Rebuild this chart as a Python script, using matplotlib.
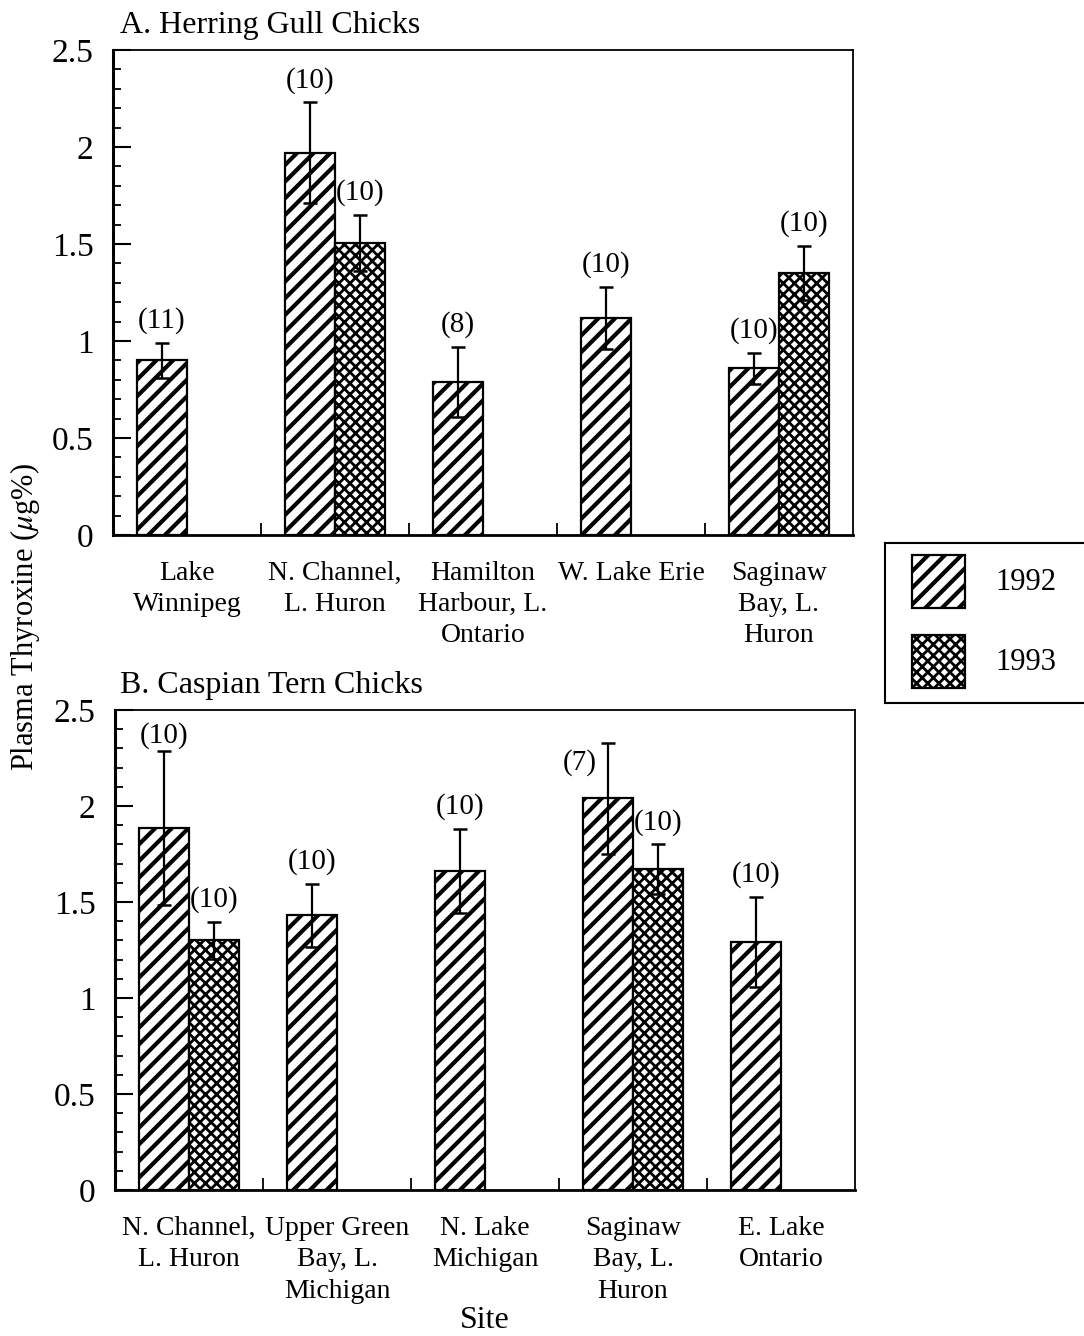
import numpy as np
import matplotlib.pyplot as plt
from matplotlib.patches import Rectangle

plt.rcParams['font.family'] = ['Liberation Serif', 'DejaVu Serif']
plt.rcParams['mathtext.fontset'] = 'stix'

# A. Herring Gull chicks
sites_a = ['Lake\nWinnipeg', 'N. Channel,\nL. Huron', 'Hamilton\nHarbour, L.\nOntario',
           'W. Lake Erie', 'Saginaw\nBay, L.\nHuron']
a_1992 = [0.90, 1.97, 0.79, 1.12, 0.86]
a_1992_err = [0.09, 0.26, 0.18, 0.16, 0.08]
a_1992_n = [11, 10, 8, 10, 10]
a_1993 = [np.nan, 1.505, np.nan, np.nan, 1.35]
a_1993_err = [np.nan, 0.145, np.nan, np.nan, 0.14]
a_1993_n = [None, 10, None, None, 10]

# B. Caspian Tern chicks
sites_b = ['N. Channel,\nL. Huron', 'Upper Green\nBay, L.\nMichigan', 'N. Lake\nMichigan',
           'Saginaw\nBay, L.\nHuron', 'E. Lake\nOntario']
b_1992 = [1.885, 1.43, 1.66, 2.04, 1.29]
b_1992_err = [0.40, 0.165, 0.22, 0.29, 0.235]
b_1992_n = [10, 10, 10, 7, 10]
b_1993 = [1.30, np.nan, np.nan, 1.67, np.nan]
b_1993_err = [0.095, np.nan, np.nan, 0.13, np.nan]
b_1993_n = [10, None, None, 10, None]

years = ['1992', '1993']
W = 0.34
HATCH = {'1992': ('//', 3.0), '1993': ('xxx', 2.0)}


def draw_bars(ax, x, vals, errs, ns, year, offs):
    vals = np.array(vals)
    errs = np.array(errs)
    ok = ~np.isnan(vals)
    hatch, hlw = HATCH[year]
    plt.rcParams['hatch.linewidth'] = hlw
    bars = ax.bar(x[ok], vals[ok], W, color='white', edgecolor='black',
                  linewidth=1.6, hatch=hatch, zorder=2)
    for b in bars:
        if hasattr(b, 'set_hatch_linewidth'):
            b.set_hatch_linewidth(hlw)
    ax.errorbar(x[ok], vals[ok], yerr=errs[ok], fmt='none', ecolor='black',
                elinewidth=1.6, capsize=5, capthick=1.8, zorder=3)
    for i in np.where(ok)[0]:
        dx, dy = offs.get(i, (0, 16))
        ax.annotate('(%d)' % ns[i], (x[i], vals[i] + errs[i]), xytext=(dx, dy),
                    textcoords='offset points', ha='center', va='center', fontsize=21)


def draw_panel(ax, sites, v92, e92, n92, v93, e93, n93, offs92={}, offs93={}):
    x = np.arange(len(sites))
    draw_bars(ax, x - W / 2, v92, e92, n92, '1992', offs92)
    draw_bars(ax, x + W / 2, v93, e93, n93, '1993', offs93)
    ax.set_xlim(-0.5, len(sites) - 0.5)
    ax.set_ylim(0, 2.5)
    ax.set_yticks([0, 0.5, 1, 1.5, 2, 2.5])
    ax.set_yticklabels(['0', '0.5', '1', '1.5', '2', '2.5'])
    ax.set_yticks(np.arange(0, 2.51, 0.1), minor=True)
    ax.set_xticks(x)
    ax.set_xticklabels(sites, fontsize=20, linespacing=1.32)
    ax.set_xticks(x[:-1] + 0.5, minor=True)
    ax.tick_params(axis='x', which='major', length=0, pad=19)
    ax.tick_params(axis='x', which='minor', direction='in', length=9, width=1.3)
    ax.tick_params(axis='y', which='major', direction='in', length=13, width=1.5,
                   labelsize=24, pad=14)
    ax.tick_params(axis='y', which='minor', direction='in', length=6, width=1.3)
    ax.spines['left'].set_linewidth(2.2)
    ax.spines['bottom'].set_linewidth(2.0)
    ax.spines['top'].set_linewidth(1.3)
    ax.spines['right'].set_linewidth(1.3)


fig = plt.figure(figsize=(10.84, 13.36), dpi=100)
axA = fig.add_axes([0.1042, 0.5996, 0.6827, 0.3630])
axB = fig.add_axes([0.1061, 0.1093, 0.6827, 0.3593])

draw_panel(axA, sites_a, a_1992, a_1992_err, a_1992_n, a_1993, a_1993_err, a_1993_n)
draw_panel(axB, sites_b, b_1992, b_1992_err, b_1992_n, b_1993, b_1993_err, b_1993_n,
           offs92={0: (0, 11), 3: (-20, -14)})

fig.text(120 / 1084, 1 - 25 / 1336, 'A. Herring Gull Chicks', fontsize=23, ha='left', va='center')
fig.text(120 / 1084, 1 - 686 / 1336, 'B. Caspian Tern Chicks', fontsize=23, ha='left', va='center')
fig.text(25 / 1084, 1 - 617 / 1336, r'Plasma Thyroxine ($\mu$g%)', fontsize=22,
         rotation=90, ha='center', va='center')
fig.text(485 / 1084, 1 - 1320 / 1336, 'Site', fontsize=23, ha='center', va='center')

# legend box, drawn in its own small axes (runs off the right edge like the original)
lax = fig.add_axes([885 / 1084, 1 - 703 / 1336, 215 / 1084, 160 / 1336])
lax.set_xlim(0, 215)
lax.set_ylim(0, 160)
lax.set_xticks([])
lax.set_yticks([])
for s in lax.spines.values():
    s.set_linewidth(1.5)
for k, year in enumerate(years):
    hatch, hlw = HATCH[year]
    plt.rcParams['hatch.linewidth'] = hlw
    y0 = 95 - k * 80
    r = Rectangle((27, y0), 53, 53, facecolor='white', edgecolor='black',
                  linewidth=1.6, hatch=hatch)
    if hasattr(r, 'set_hatch_linewidth'):
        r.set_hatch_linewidth(hlw)
    lax.add_patch(r)
    lax.text(110, y0 + 26, year, fontsize=22, ha='left', va='center')

fig.savefig('out.png', dpi=100)
